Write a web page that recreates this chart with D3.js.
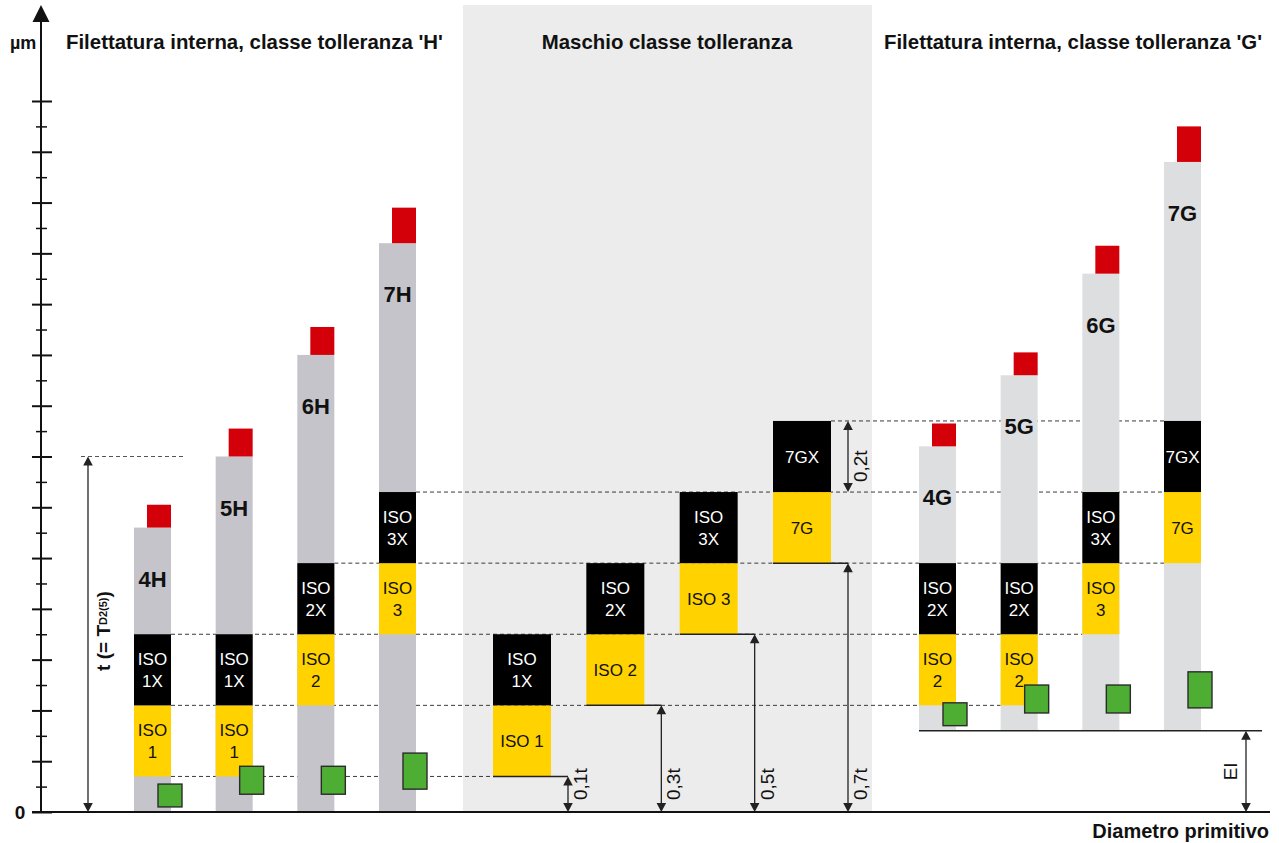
<!DOCTYPE html>
<html>
<head>
<meta charset="utf-8">
<script src="https://cdn.jsdelivr.net/npm/d3@7"></script>
<style>
  body { margin: 0; background: #fff; }
  svg { display: block; }
  text { font-family: "Liberation Sans", Arial, Helvetica, sans-serif; }
</style>
</head>
<body>
<svg id="chart" width="1279" height="843"></svg>
<script>
// ---- values on the µm axis ----
const grades = ["4", "5", "6", "7"];
const tValue = 70;          // t (= T_D2(5))
const eiValue = 16;         // fundamental deviation EI of position G

// nut thread fields: top of grey field and top of red cap
const hFieldTop = [56, 70, 90, 112];
const hCapTop   = [60.5, 75.5, 95.5, 119];
const gFieldTop = [72, 86, 106, 128];
const gCapTop   = [76.5, 90.5, 111.5, 135];

// green markers: lower / upper limit
const hMarkLow  = [1, 3.5, 3.5, 4.5];
const hMarkHigh = [5.5, 9, 9, 11.6];
const gMarkLow  = [17, 19.5, 19.5, 20.5];
const gMarkHigh = [21.5, 25, 25, 27.6];

// tap classes: lower limit as a fraction of t, each band 0.2t high
const tapClasses  = ["ISO 1", "ISO 2", "ISO 3", "7G"];
const tapXClasses = ["ISO 1X", "ISO 2X", "ISO 3X", "7GX"];
const tapLow  = [0.1, 0.3, 0.5, 0.7];
const tapBand = 0.2;
const tapLabels = ["0,1t", "0,3t", "0,5t", "0,7t"];
const bandLabel = "0,2t";

// which tap class sits inside each nut grade
const hTapIndex = [0, 0, 1, 2];
const gTapIndex = [1, 1, 2, 3];

const titles = [
  "Filettatura interna, classe tolleranza 'H'",
  "Maschio classe tolleranza",
  "Filettatura interna, classe tolleranza 'G'"
];
const axisUnit = "µm";
const axisZero = "0";
const xAxisTitle = "Diametro primitivo";
const axisMax = 140, majorStep = 10;

// ---- colours ----
const C = {
  greyH: "#c5c4ca", greyG: "#dddee0", band: "#ececec",
  yellow: "#ffd200", black: "#000", red: "#d3000a",
  green: "#4dae33", line: "#222", dash: "#3a3a3a"
};

const svg = d3.select("#chart");
const y = d3.scaleLinear().domain([0, axisMax]).range([812, 101]);
const xH = d3.scalePoint().domain(grades).range([134, 379]);
const xM = d3.scalePoint().domain(tapClasses).range([493, 773]);
const xG = d3.scalePoint().domain(grades).range([919, 1164]);
const barW = 37, tapW = 58, capW = 24;
const tv = f => f * tValue;

// tap section background
svg.append("rect").attr("x", 463).attr("y", 5).attr("width", 409).attr("height", y(0) - 5)
  .attr("fill", C.band);

// ---- dashed guide lines at the class limits ----
const guides = [
  [0.1, xH("4") + barW, xM("ISO 1")],
  [0.3, xH("4") + barW, xG("5")],
  [0.5, xH("4") + barW, xG("6")],
  [0.7, xH("6") + barW, xG("7")],
  [0.9, xH("7") + barW, xG("7")],
  [1.1, xM("7G") + tapW, xG("7")]
];
svg.append("g").selectAll("line").data(guides).join("line")
  .attr("x1", d => d[1]).attr("x2", d => d[2])
  .attr("y1", d => y(tv(d[0]))).attr("y2", d => y(tv(d[0])))
  .attr("stroke", C.dash).attr("stroke-width", 1).attr("stroke-dasharray", "4,3");
svg.append("line").attr("x1", 81).attr("x2", 184)
  .attr("y1", y(tValue)).attr("y2", y(tValue))
  .attr("stroke", "#555").attr("stroke-width", 1).attr("stroke-dasharray", "4,3");

// ---- helpers ----
function blockLabel(g, cx, lo, hi, label, fill, twoLine) {
  const cy = (y(lo) + y(hi)) / 2;
  const t = g.append("text").attr("text-anchor", "middle").attr("font-size", 17)
    .attr("fill", fill);
  const parts = label.split(" ");
  if (twoLine && parts.length > 1) {
    t.append("tspan").attr("x", cx).attr("y", cy - 4.5).text(parts[0]);
    t.append("tspan").attr("x", cx).attr("y", cy + 17.5).text(parts[1]);
  } else {
    t.attr("x", cx).attr("y", cy + 6).text(label);
  }
}

function arrowHead(g, x, yTip, dir) {
  // dir = -1 points up, +1 points down
  const L = 9, W = 4.8;
  g.append("path")
    .attr("d", `M${x},${yTip} L${x - W},${yTip - dir * L} L${x + W},${yTip - dir * L} Z`)
    .attr("fill", C.line);
}
function dimArrow(g, x, yTop, yBot) {
  g.append("line").attr("x1", x).attr("x2", x).attr("y1", yTop + 4).attr("y2", yBot - 4)
    .attr("stroke", C.line).attr("stroke-width", 1.3);
  arrowHead(g, x, yTop, -1);
  arrowHead(g, x, yBot, 1);
}

// ---- nut thread grades (H and G) ----
function nutSection(x, suffix, fieldTop, capTop, base, markLow, markHigh, tapIdx, grey) {
  const g = svg.append("g");
  grades.forEach((gr, i) => {
    const x0 = x(gr);
    g.append("rect").attr("x", x0).attr("width", barW)
      .attr("y", y(fieldTop[i])).attr("height", y(base) - y(fieldTop[i])).attr("fill", grey);
    g.append("rect").attr("x", x0 + barW - capW).attr("width", capW)
      .attr("y", y(capTop[i])).attr("height", y(fieldTop[i]) - y(capTop[i])).attr("fill", C.red);
    const k = tapIdx[i];
    const lo = tv(tapLow[k]), mid = tv(tapLow[k] + tapBand), hi = tv(tapLow[k] + 2 * tapBand);
    g.append("rect").attr("x", x0).attr("width", barW)
      .attr("y", y(mid)).attr("height", y(lo) - y(mid)).attr("fill", C.yellow);
    g.append("rect").attr("x", x0).attr("width", barW)
      .attr("y", y(hi)).attr("height", y(mid) - y(hi)).attr("fill", C.black);
    blockLabel(g, x0 + barW / 2, lo, mid, tapClasses[k], "#111", true);
    blockLabel(g, x0 + barW / 2, mid, hi, tapXClasses[k], "#fff", true);
    g.append("text").attr("x", x0 + barW / 2).attr("y", y(fieldTop[i]) + 59)
      .attr("text-anchor", "middle").attr("font-size", 22).attr("font-weight", "bold")
      .attr("fill", "#111").text(gr + suffix);
    g.append("rect").attr("x", x0 + 24).attr("width", capW)
      .attr("y", y(markHigh[i])).attr("height", y(markLow[i]) - y(markHigh[i]))
      .attr("fill", C.green).attr("stroke", "#2b2b2b").attr("stroke-width", 1.4);
  });
}
nutSection(xH, "H", hFieldTop, hCapTop, 0, hMarkLow, hMarkHigh, hTapIndex, C.greyH);
nutSection(xG, "G", gFieldTop, gCapTop, eiValue, gMarkLow, gMarkHigh, gTapIndex, C.greyG);

// ---- tap classes ----
const gm = svg.append("g");
tapClasses.forEach((c, i) => {
  const x0 = xM(c);
  const lo = tv(tapLow[i]), mid = tv(tapLow[i] + tapBand), hi = tv(tapLow[i] + 2 * tapBand);
  gm.append("rect").attr("x", x0).attr("width", tapW)
    .attr("y", y(mid)).attr("height", y(lo) - y(mid)).attr("fill", C.yellow);
  gm.append("rect").attr("x", x0).attr("width", tapW)
    .attr("y", y(hi)).attr("height", y(mid) - y(hi)).attr("fill", C.black);
  blockLabel(gm, x0 + tapW / 2, lo, mid, c, "#111", false);
  blockLabel(gm, x0 + tapW / 2, mid, hi, tapXClasses[i], "#fff", c !== "7G");
  const ax = x0 + 75;
  gm.append("line").attr("x1", x0).attr("x2", ax).attr("y1", y(lo)).attr("y2", y(lo))
    .attr("stroke", C.line).attr("stroke-width", 1.5);
  dimArrow(gm, ax, y(lo), y(0));
  gm.append("text").attr("transform", `translate(${ax + 19},${y(0) - 12}) rotate(-90)`)
    .attr("font-size", 19).attr("fill", "#111").text(tapLabels[i]);
  if (i === tapClasses.length - 1) {
    dimArrow(gm, ax, y(hi), y(mid));
    gm.append("text").attr("transform", `translate(${ax + 19},${y(mid) - 10}) rotate(-90)`)
      .attr("font-size", 19).attr("fill", "#111").text(bandLabel);
  }
});

// ---- EI offset ----
svg.append("line").attr("x1", xG("4")).attr("x2", 1262)
  .attr("y1", y(eiValue)).attr("y2", y(eiValue))
  .attr("stroke", C.line).attr("stroke-width", 1.6);
dimArrow(svg, 1246, y(eiValue), y(0));
svg.append("text").attr("transform", `translate(1237,${(y(0) + y(eiValue)) / 2}) rotate(-90)`)
  .attr("text-anchor", "middle").attr("font-size", 19).attr("fill", "#111").text("EI");

// ---- t dimension ----
dimArrow(svg, 88, y(tValue), y(0));
const tl = svg.append("text").attr("transform", `translate(110,631) rotate(-90)`)
  .attr("text-anchor", "middle").attr("font-size", 19).attr("font-weight", "bold").attr("fill", "#111");
tl.append("tspan").text("t (= T");
tl.append("tspan").attr("font-size", 11).attr("dy", -3).text("D2(5)");
tl.append("tspan").attr("dy", 3).text(")");

// ---- axes ----
const axisX = 41;
const major = d3.range(0, axisMax + 1, majorStep);
const minor = d3.range(majorStep / 2, axisMax, majorStep);
function tickAxis(axisFn, values, size, width) {
  const g = svg.append("g").attr("transform", `translate(${axisX},0)`)
    .call(axisFn(y).tickValues(values).tickSize(size).tickFormat(""));
  g.select(".domain").remove();
  g.selectAll(".tick line").attr("stroke", "#111").attr("stroke-width", width);
}
tickAxis(d3.axisLeft, major, 9, 2);
tickAxis(d3.axisRight, major, 11, 2);
tickAxis(d3.axisLeft, minor, 5, 1.5);
tickAxis(d3.axisRight, minor, 6, 1.5);

svg.append("line").attr("x1", axisX).attr("x2", axisX).attr("y1", y(0)).attr("y2", 20)
  .attr("stroke", "#111").attr("stroke-width", 2);
svg.append("path").attr("d", `M${axisX},5 L${axisX - 8.5},22 L${axisX + 8.5},22 Z`).attr("fill", "#111");
svg.append("line").attr("x1", 32).attr("x2", 1270).attr("y1", y(0)).attr("y2", y(0))
  .attr("stroke", "#111").attr("stroke-width", 2);

svg.append("text").attr("x", 10).attr("y", 49).attr("font-size", 18).attr("font-weight", "bold")
  .attr("fill", "#111").text(axisUnit);
svg.append("text").attr("x", 20).attr("y", 819).attr("text-anchor", "middle").attr("font-size", 19)
  .attr("font-weight", "bold").attr("fill", "#111").text(axisZero);
svg.append("text").attr("x", 1269).attr("y", 838).attr("text-anchor", "end").attr("font-size", 20)
  .attr("font-weight", "bold").attr("fill", "#111").text(xAxisTitle);

// ---- section titles ----
const titleSpec = [[66, "start"], [667, "middle"], [884, "start"]];
svg.append("g").selectAll("text").data(titles).join("text")
  .attr("x", (d, i) => titleSpec[i][0]).attr("y", 49)
  .attr("text-anchor", (d, i) => titleSpec[i][1])
  .attr("font-size", 20.4).attr("font-weight", "bold").attr("fill", "#111")
  .text(d => d);
</script>
</body>
</html>
